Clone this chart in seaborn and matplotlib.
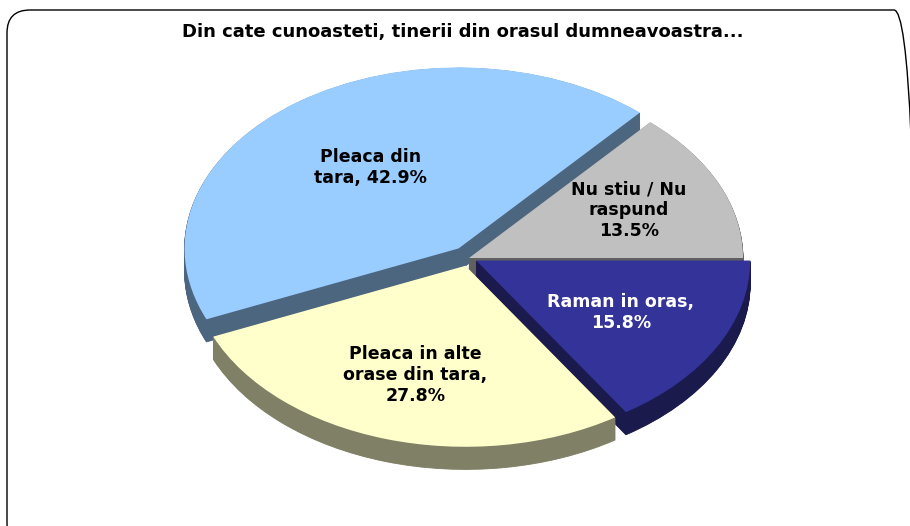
import numpy as np
import seaborn as sns
import matplotlib
matplotlib.use("Agg")
import matplotlib.pyplot as plt
from matplotlib.colors import to_rgb
from matplotlib.patches import FancyBboxPatch
from matplotlib.transforms import IdentityTransform

# data (clockwise from 3 o'clock)
categories = ["Raman in oras", "Pleaca in alte orase din tara", "Pleaca din tara", "Nu stiu / Nu raspund"]
values = [15.8, 27.8, 42.9, 13.5]
label_fmt = ["Raman in oras,\n{:.1f}%", "Pleaca in alte\norase din tara,\n{:.1f}%",
             "Pleaca din\ntara, {:.1f}%", "Nu stiu / Nu\nraspund\n{:.1f}%"]
title = "Din cate cunoasteti, tinerii din orasul dumneavoastra..."

top_colors = ["#333399", "#FFFFCC", "#99CCFF", "#C0C0C0"]
wall_colors = [tuple(np.array(to_rgb(c)) * 0.5) for c in top_colors]
text_colors = ["white", "black", "black", "black"]
explode = [0.03, 0.045, 0.065, 0.0]
label_dist = [0.6, 0.63, 0.55, 0.64]

sns.set_style("white")
plt.rcParams['font.family'] = ['DejaVu Sans']

W, H = 910, 526
fig = plt.figure(figsize=(W / 100, H / 100), dpi=100)
ax = fig.add_axes([0, 0, 1, 1])

# pixel geometry of the pie
cx, cy = 469, 268
rx, ry = 274, 181
depth = 0.125
nlayers = 30

# side walls: stacked darker copies
for k in range(nlayers, 0, -1):
    off = depth * k / nlayers
    ax.pie(values, explode=explode, startangle=0, counterclock=False, colors=wall_colors,
           center=(0, -off), wedgeprops=dict(linewidth=0.6), frame=True)
    for w, c in zip(ax.patches[-4:], wall_colors):
        w.set_edgecolor(c)

labels = [f.format(v) for f, v in zip(label_fmt, values)]
wedges, texts = ax.pie(values, explode=explode, startangle=0, counterclock=False,
                       colors=top_colors, labels=labels, labeldistance=0.6,
                       wedgeprops=dict(linewidth=0), frame=True,
                       textprops=dict(ha="center", va="center", fontsize=12.5, fontweight="bold"))
for w, t, c, d in zip(wedges, texts, text_colors, label_dist):
    ang = np.deg2rad((w.theta1 + w.theta2) / 2)
    t.set_position((w.center[0] + d * w.r * np.cos(ang), w.center[1] + d * w.r * np.sin(ang)))
    t.set_color(c)
    t.set_linespacing(1.2)

ax.set_aspect("auto")
ax.set_xlim(-cx / rx, (W - cx) / rx)
ax.set_ylim(-cy / ry, (H - cy) / ry)
ax.axis("off")

fig.text(463 / W, 1 - 32 / H, title, ha="center", va="center", fontsize=13,
         fontweight="bold", color="black")

box = FancyBboxPatch((7, -20), 910, H - 10 + 20, boxstyle="round,pad=0,rounding_size=23",
                     transform=IdentityTransform(), fill=False, edgecolor="black", linewidth=1.0)
fig.add_artist(box)

fig.savefig("out.png", dpi=100)
